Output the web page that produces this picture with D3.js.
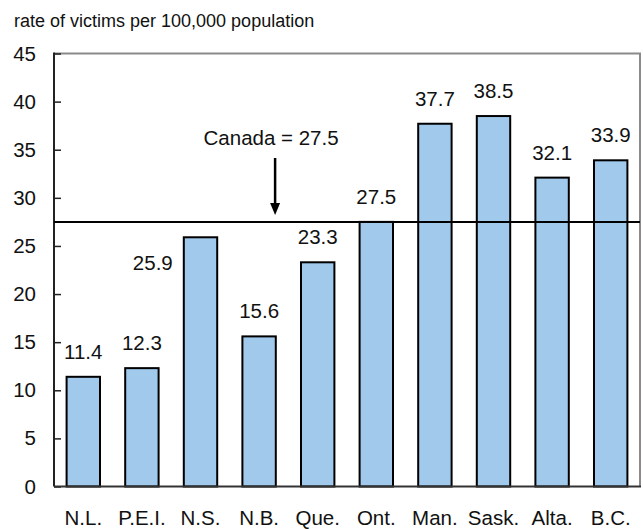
<!doctype html>
<html lang="en">
<head>
<meta charset="utf-8">
<script src="https://d3js.org/d3.v7.min.js"></script>
<style>
  body { margin: 0; background: #fff; }
  svg text { font-family: "Liberation Sans", Arial, sans-serif; fill: #111; }
</style>
</head>
<body>
<svg width="643" height="529"></svg>
<script>
  var provinces = ["N.L.", "P.E.I.", "N.S.", "N.B.", "Que.", "Ont.", "Man.", "Sask.", "Alta.", "B.C."];
  var rates = [11.4, 12.3, 25.9, 15.6, 23.3, 27.5, 37.7, 38.5, 32.1, 33.9];
  var yTicks = [0, 5, 10, 15, 20, 25, 30, 35, 40, 45];
  var canadaRate = 27.5;

  var data = provinces.map(function(p, i) { return {name: p, value: rates[i]}; });

  var svg = d3.select("svg");
  var pLeft = 54, pRight = 640, pTop = 53.5, pBottom = 486.5;
  var fs = "20.5px";

  var x = d3.scaleBand().domain(provinces).range([pLeft, pRight]).paddingInner(0.43).paddingOuter(0.215);
  var y = d3.scaleLinear().domain([0, 45]).range([pBottom, pTop]);

  svg.append("text")
      .attr("x", 14).attr("y", 27)
      .style("font-size", "18px")
      .text("rate of victims per 100,000 population");

  // frame top + right (grey)
  svg.append("path")
      .attr("d", "M" + pLeft + "," + pTop + "H" + pRight + "V" + pBottom)
      .attr("fill", "none").attr("stroke", "#8a8a8a").attr("stroke-width", 2);

  // bars
  svg.selectAll(".bar")
      .data(data)
      .enter().append("rect")
      .attr("class", "bar")
      .attr("x", function(d) { return x(d.name); })
      .attr("width", x.bandwidth())
      .attr("y", function(d) { return y(d.value); })
      .attr("height", function(d) { return pBottom - y(d.value); })
      .attr("fill", "#a0c9eb")
      .attr("stroke", "#000")
      .attr("stroke-width", 2);

  // y axis
  var yAxis = svg.append("g")
      .attr("transform", "translate(" + pLeft + ",0)")
      .call(d3.axisRight(y).tickValues(yTicks).tickSize(7).tickFormat(d3.format("d")));
  yAxis.select(".domain").remove();
  yAxis.selectAll(".tick line").attr("stroke", "#222").attr("stroke-width", 1.5);
  yAxis.selectAll(".tick text")
      .attr("x", -18).attr("text-anchor", "end")
      .style("font-size", fs).style("font-family", "Liberation Sans, Arial, sans-serif").attr("fill", "#111");

  svg.append("line")
      .attr("x1", pLeft).attr("x2", pLeft).attr("y1", pTop - 1).attr("y2", pBottom)
      .attr("stroke", "#222").attr("stroke-width", 2);
  svg.append("line")
      .attr("x1", pLeft).attr("x2", pRight + 1).attr("y1", pBottom).attr("y2", pBottom)
      .attr("stroke", "#333").attr("stroke-width", 2);

  // x labels
  var xAxis = svg.append("g")
      .attr("transform", "translate(0," + pBottom + ")")
      .call(d3.axisBottom(x).tickSize(0).tickPadding(24));
  xAxis.select(".domain").remove();
  xAxis.selectAll(".tick text")
      .style("font-size", fs).style("font-family", "Liberation Sans, Arial, sans-serif").attr("fill", "#111");

  // Canada line
  svg.append("line")
      .attr("x1", pLeft).attr("x2", pRight)
      .attr("y1", y(canadaRate)).attr("y2", y(canadaRate))
      .attr("stroke", "#000").attr("stroke-width", 2);

  // value labels
  svg.selectAll(".val")
      .data(data)
      .enter().append("text")
      .attr("class", "val")
      .attr("text-anchor", "middle")
      .style("font-size", fs)
      .attr("x", function(d) { return d.name === "N.S." ? x(d.name) - 31 : x(d.name) + x.bandwidth() / 2; })
      .attr("y", function(d) { return d.name === "N.S." ? y(d.value) + 33 : y(d.value) - 18; })
      .text(function(d) { return d3.format(".1f")(d.value); });

  // annotation
  var ax = x("N.B.") + x.bandwidth() / 2 + 16;
  svg.append("text")
      .attr("x", ax - 4).attr("y", 145)
      .attr("text-anchor", "middle")
      .style("font-size", fs)
      .text("Canada = " + canadaRate);
  svg.append("line")
      .attr("x1", ax).attr("x2", ax).attr("y1", 158).attr("y2", 205)
      .attr("stroke", "#000").attr("stroke-width", 2.5);
  svg.append("path")
      .attr("d", "M" + (ax - 5) + ",203 L" + (ax + 5) + ",203 L" + ax + ",215 Z")
      .attr("fill", "#000");
</script>
</body>
</html>
